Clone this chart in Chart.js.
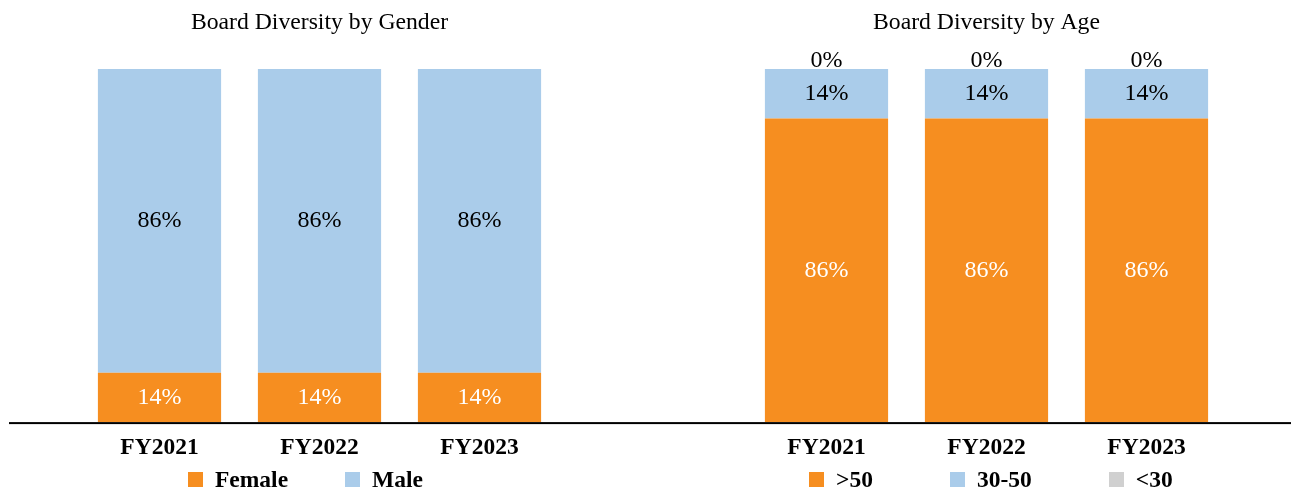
<!DOCTYPE html>
<html>
<head>
<meta charset="utf-8">
<script src="https://cdn.jsdelivr.net/npm/chart.js@4.4.1/dist/chart.umd.min.js"></script>
<style>
  body { margin: 0; background: #fff; overflow: hidden; }
  .panel { position: absolute; top: 0; height: 488px; }
  .legend {
    position: absolute; top: 472px; margin: 0; padding: 0; list-style: none;
    display: flex; font: bold 23.5px 'Liberation Serif', 'Times New Roman', serif; color: #000;
  }
  .legend li { display: flex; align-items: center; line-height: 15px; }
  .legend .box { display: inline-block; width: 15px; height: 15px; margin-right: 12px; }
</style>
</head>
<body>
<div class="panel" style="left:0;width:646px"><canvas id="genderChart"></canvas></div>
<div class="panel" style="left:646px;width:645px"><canvas id="ageChart"></canvas></div>
<ul class="legend" id="genderLegend" style="left:188px;gap:57px"></ul>
<ul class="legend" id="ageLegend" style="left:809px;gap:77px"></ul>
<script>
const years = ['FY2021', 'FY2022', 'FY2023'];

// gender split, %
const female = [14, 14, 14];
const male = [86, 86, 86];

// age split, %
const over50 = [86, 86, 86];
const age30to50 = [14, 14, 14];
const under30 = [0, 0, 0];

const ORANGE = '#F68E20';
const BLUE = '#AACCEA';
const GREY = '#D0D0D0';
const SERIF = "'Liberation Serif', 'Times New Roman', serif";

Chart.defaults.color = '#000';
Chart.defaults.font.family = SERIF;

// value labels: centred in each segment, above the bar when the segment is empty
const valueLabels = {
  id: 'valueLabels',
  afterDatasetsDraw(chart, args, opts) {
    const ctx = chart.ctx;
    ctx.save();
    ctx.font = `24px ${SERIF}`;
    ctx.textAlign = 'center';
    chart.data.datasets.forEach((ds, di) => {
      chart.getDatasetMeta(di).data.forEach((bar, i) => {
        const v = ds.data[i];
        if (v === 0) {
          ctx.fillStyle = '#000';
          ctx.textBaseline = 'alphabetic';
          ctx.fillText(v + '%', bar.x, bar.y - 2);
        } else {
          ctx.fillStyle = opts.colors[di];
          ctx.textBaseline = 'middle';
          ctx.fillText(v + '%', bar.x, (bar.y + bar.base) / 2);
        }
      });
    });
    ctx.restore();
  }
};

// long black baseline under the bars
const baseline = {
  id: 'baseline',
  afterDatasetsDraw(chart, args, opts) {
    const y = chart.scales.y.getPixelForValue(0);
    const ctx = chart.ctx;
    ctx.save();
    ctx.fillStyle = '#000';
    ctx.fillRect(opts.from, y, chart.width - opts.from, 2);
    ctx.restore();
  }
};

// legend as html below the axis
const htmlLegend = {
  id: 'htmlLegend',
  afterUpdate(chart, args, opts) {
    const list = document.getElementById(opts.containerID);
    list.innerHTML = '';
    chart.options.plugins.legend.labels.generateLabels(chart).forEach((item) => {
      const li = document.createElement('li');
      const box = document.createElement('span');
      box.className = 'box';
      box.style.background = item.fillStyle;
      li.appendChild(box);
      li.appendChild(document.createTextNode(item.text));
      list.appendChild(li);
    });
  }
};

const makeChart = (id, title, datasets, extra) => {
  new Chart(document.getElementById(id), {
    type: 'bar',
    data: { labels: years, datasets },
    options: {
      responsive: true,
      maintainAspectRatio: false,
      animation: false,
      layout: { padding: { left: extra.padLeft, right: extra.padRight, top: 0, bottom: 14.9 } },
      datasets: { bar: { barPercentage: 0.77, categoryPercentage: 1, borderWidth: 0 } },
      scales: {
        x: {
          stacked: true,
          grid: { display: false, drawTicks: false },
          border: { display: false },
          ticks: { padding: 11.4, font: { size: 23.5, weight: 'bold', lineHeight: 1.2 } },
        },
        xTop: {
          type: 'category',
          axis: 'x',
          position: 'top',
          display: true,
          grid: { display: false, drawTicks: false },
          border: { display: false },
          ticks: { display: false },
          title: {
            display: true,
            text: title,
            font: { size: 23.7, lineHeight: 1.2 },
            padding: { top: 8.8, bottom: 31.8 },
          },
        },
        y: { stacked: true, min: 0, max: 100, display: false },
      },
      plugins: {
        legend: { display: false },
        tooltip: { enabled: false },
        valueLabels: { colors: extra.labelColors },
        baseline: { from: extra.lineFrom },
        htmlLegend: { containerID: extra.legendID },
      },
    },
    plugins: [valueLabels, baseline, htmlLegend],
  });
};

makeChart('genderChart', 'Board Diversity by Gender', [
  { label: 'Female', data: female, backgroundColor: ORANGE },
  { label: 'Male', data: male, backgroundColor: BLUE },
], { padLeft: 79.5, padRight: 86.5, lineFrom: 9, labelColors: ['#fff', '#000'], legendID: 'genderLegend' });

makeChart('ageChart', 'Board Diversity by Age', [
  { label: '>50', data: over50, backgroundColor: ORANGE },
  { label: '30-50', data: age30to50, backgroundColor: BLUE },
  { label: '<30', data: under30, backgroundColor: GREY },
], { padLeft: 100.5, padRight: 64.5, lineFrom: 0, labelColors: ['#fff', '#000', '#000'], legendID: 'ageLegend' });
</script>
</body>
</html>
